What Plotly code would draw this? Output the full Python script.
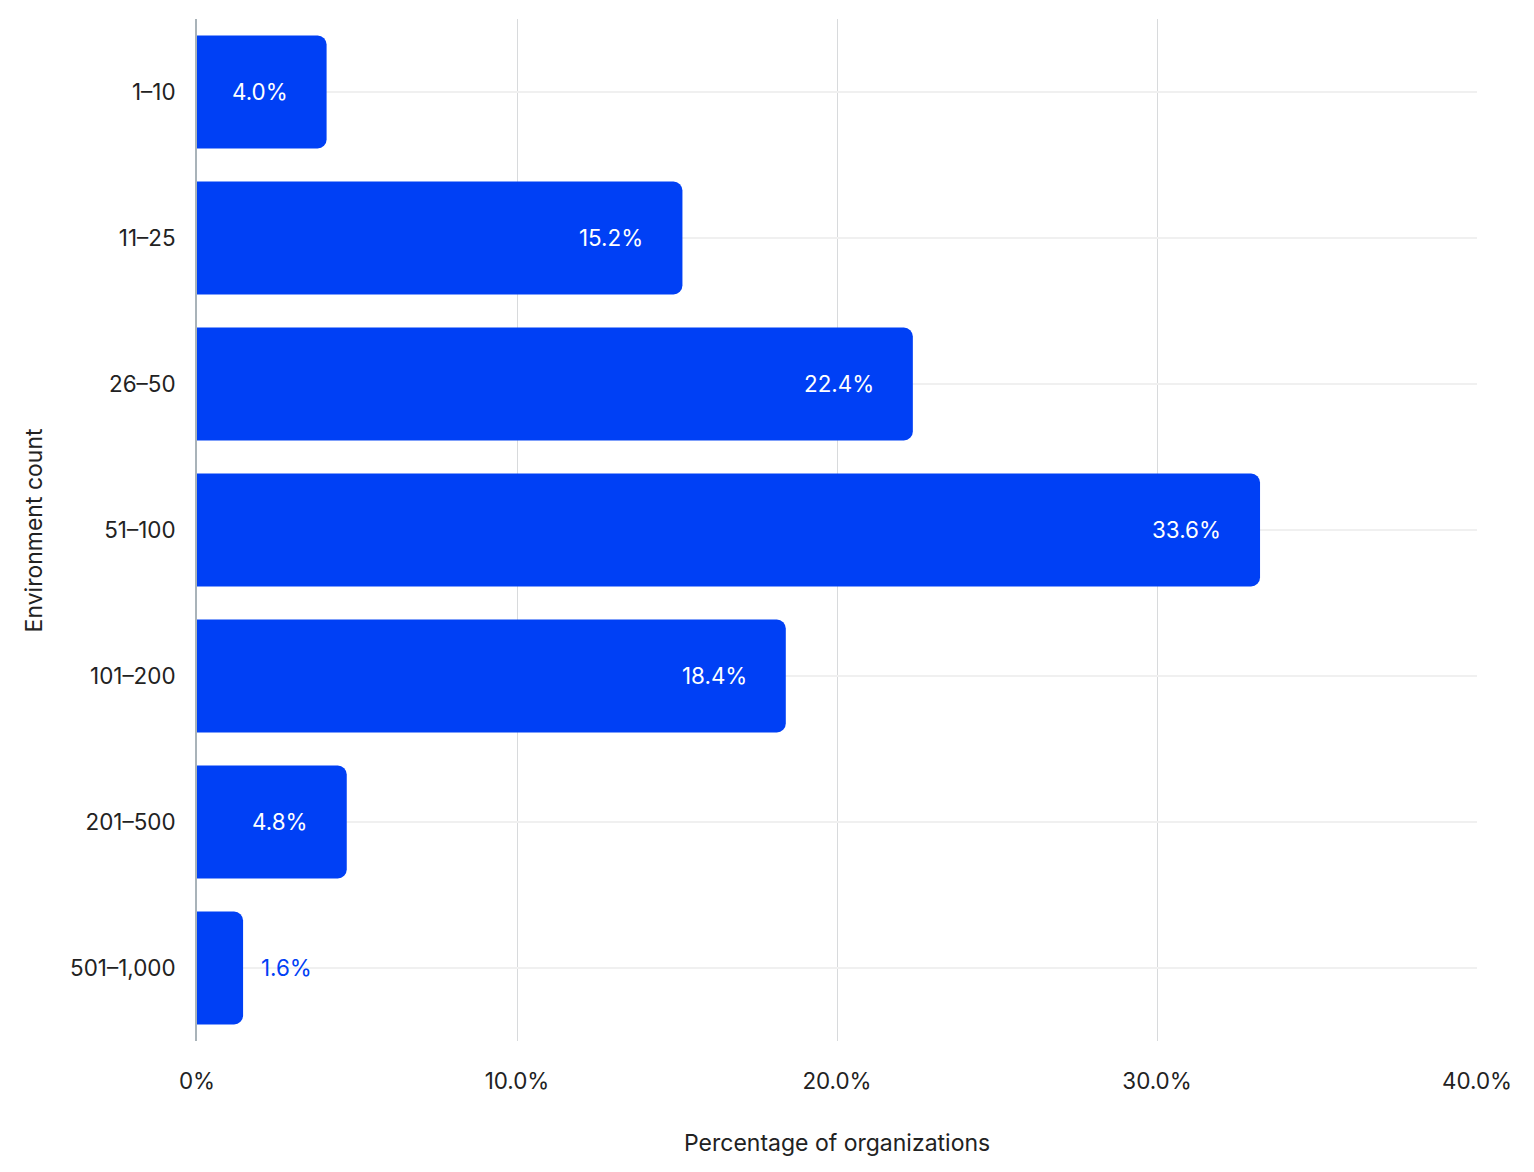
import plotly.graph_objects as go

categories = ["1–10", "11–25", "26–50", "51–100", "101–200", "201–500", "501–1,000"]
bar_values = [4.05, 15.17, 22.37, 33.22, 18.4, 4.68, 1.44]
value_labels = ["4.0%", "15.2%", "22.4%", "33.6%", "18.4%", "4.8%", "1.6%"]
x_tickvals = [0, 10, 20, 30, 40]
x_ticktext = ["0%", "10.0%", "20.0%", "30.0%", "40.0%"]

BLUE = "#0040F5"
FONT = "Inter, Roboto, 'Open Sans', sans-serif"
TEXT = "#222222"
FS = 22.4

fig = go.Figure()
fig.add_trace(go.Bar(
    y=categories, x=bar_values, orientation="h",
    marker=dict(color=BLUE, line=dict(width=0), cornerradius=9),
    hoverinfo="skip",
))

annotations = []
for cat, v, lab in zip(categories, bar_values, value_labels):
    inside = v >= 3
    annotations.append(dict(
        x=v, y=cat, xref="x", yref="y", text=lab, showarrow=False,
        xanchor="right" if inside else "left",
        xshift=-37 if inside else 16, yshift=1,
        font=dict(family=FONT, size=FS, color="white" if inside else BLUE),
    ))
annotations.append(dict(
    x=0.5, y=-0.1, xref="paper", yref="paper", text="Percentage of organizations",
    showarrow=False, font=dict(family=FONT, size=23, color=TEXT), yanchor="middle",
))
annotations.append(dict(
    x=-0.127, y=0.5, xref="paper", yref="paper", text="Environment count",
    showarrow=False, textangle=-90, font=dict(family=FONT, size=23, color=TEXT),
    xanchor="center", yanchor="middle",
))

fig.update_layout(
    width=1526, height=1164,
    margin=dict(l=189, r=57, t=11, b=131),
    paper_bgcolor="white", plot_bgcolor="white",
    bargap=0.226, showlegend=False,
    font=dict(family=FONT, size=FS, color=TEXT),
    annotations=annotations,
    xaxis=dict(
        range=[0, 40], tickvals=x_tickvals, ticktext=x_ticktext,
        showgrid=True, gridcolor="#d8dadc", gridwidth=1,
        zeroline=False, showline=False, ticks="", ticklabelstandoff=25,
        tickfont=dict(family=FONT, size=FS, color=TEXT), fixedrange=True,
    ),
    yaxis=dict(
        categoryorder="array", categoryarray=categories, autorange="reversed",
        showgrid=True, gridcolor="#f0f0f0", gridwidth=2,
        showline=True, linecolor="#a9b3b9", linewidth=2,
        ticks="", ticklabelstandoff=15,
        tickfont=dict(family=FONT, size=FS, color=TEXT), fixedrange=True,
    ),
)

fig.write_html("out.html")
